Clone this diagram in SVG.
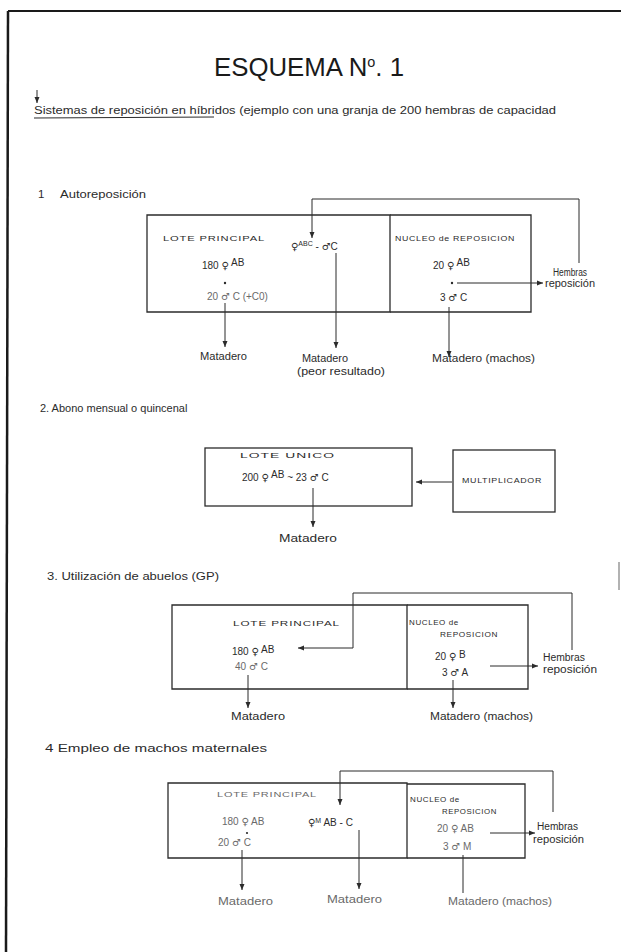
<svg xmlns="http://www.w3.org/2000/svg" width="621" height="952" viewBox="0 0 621 952">
<defs>
<style>
.t{font-family:"Liberation Sans","DejaVu Sans",sans-serif;fill:#2b2b2b}
.title{font-size:25px;fill:#1a1a1a}
.hand{font-size:10px}
.cap{font-size:8px;letter-spacing:0.6px}
.lab{font-size:11.5px}
.sup{font-size:7px}
.s{font-family:"DejaVu Sans",sans-serif;font-size:10px}
.ln{stroke:#2b2b2b;stroke-width:1;fill:none}
.box{stroke:#2b2b2b;stroke-width:1.3;fill:none}
.gray{fill:#6a6a6a}
.dot{fill:#2b2b2b}
</style>
<marker id="ah" viewBox="0 0 6 6" markerWidth="6" markerHeight="6" refX="6" refY="3" orient="auto" markerUnits="userSpaceOnUse">
<path d="M0,0.5 L6,3 L0,5.5 z" fill="#2b2b2b"/>
</marker>
</defs>
<rect width="621" height="952" fill="#ffffff"/>
<g id="page-frame">
<path d="M8,11 L621,11" stroke="#1a1a1a" stroke-width="2" fill="none"/>
<path d="M8,11 L6,952" stroke="#1a1a1a" stroke-width="2.5" fill="none"/>
<path d="M619,562 L619,590" stroke="#999" stroke-width="1.5" fill="none"/>
</g>
<g id="header">
<text class="t title" x="214" y="76" textLength="190" lengthAdjust="spacingAndGlyphs">ESQUEMA N<tspan font-size="14" dy="-9">o</tspan><tspan dy="9">. 1</tspan></text>
<path class="ln" d="M37,90 L37,103" marker-end="url(#ah)"/>
<text class="t hand" x="34" y="114" textLength="522" lengthAdjust="spacingAndGlyphs">Sistemas de reposición en híbridos (ejemplo con una granja de 200 hembras de capacidad</text>
<path class="ln" d="M34,118 L214,117"/>
</g>
<g id="connectors">
<path class="ln" d="M579,263 L579,199 L312,199 L312,238" marker-end="url(#ah)"/>
<path class="ln" d="M225,303 L225,347" marker-end="url(#ah)"/>
<path class="ln" d="M336,253 L336,348" marker-end="url(#ah)"/>
<path class="ln" d="M457,283 L543,283" marker-end="url(#ah)"/>
<path class="ln" d="M449,307 L449,357" marker-end="url(#ah)"/>
<path class="ln" d="M313,488 L313,527" marker-end="url(#ah)"/>
<path class="ln" d="M452,482 L416,482" marker-end="url(#ah)"/>
<path class="ln" d="M572,650 L572,593 L353,593 L353,648 L298,648" marker-end="url(#ah)"/>
<path class="ln" d="M248,675 L248,708" marker-end="url(#ah)"/>
<path class="ln" d="M490,666 L538,666" marker-end="url(#ah)"/>
<path class="ln" d="M453,680 L453,708" marker-end="url(#ah)"/>
<path class="ln" d="M553,812 L553,771 L340,771 L340,805" marker-end="url(#ah)"/>
<path class="ln" d="M242,850 L242,890" marker-end="url(#ah)"/>
<path class="ln" d="M359,830 L359,889" marker-end="url(#ah)"/>
<path class="ln" d="M490,833 L535,833" marker-end="url(#ah)"/>
<path class="ln" d="M463,855 L463,893"/>
</g>
<g id="s1-label"><text class="t lab" x="38" y="198">1</text><text class="t lab" x="60" y="198" textLength="86" lengthAdjust="spacingAndGlyphs">Autoreposición</text></g>
<g id="s1-lote-principal">
<path class="box" d="M147,215 L390,215 L390,312 L147,312 Z"/>
<text class="t cap" x="163" y="241" textLength="102" lengthAdjust="spacingAndGlyphs">LOTE   PRINCIPAL</text>
<text class="t hand" x="202" y="269">180 <tspan class="s">♀</tspan> <tspan dy="-3">AB</tspan></text>
<circle class="dot" cx="225" cy="283" r="1.2"/>
<text class="t hand gray" x="207" y="300">20 <tspan class="s">♂</tspan> C (+C0)</text>
<text class="t hand" x="291" y="250"><tspan class="s">♀</tspan><tspan class="sup" dy="-4">ABC</tspan><tspan dy="4"> - </tspan><tspan class="s">♂</tspan>C</text>
</g>
<g id="s1-nucleo">
<path class="box" d="M390,215 L531,215 L531,312 L390,312"/>
<text class="t cap" x="395" y="241" textLength="120" lengthAdjust="spacingAndGlyphs">NUCLEO de REPOSICION</text>
<text class="t hand" x="433" y="269">20 <tspan class="s">♀</tspan> <tspan dy="-3">AB</tspan></text>
<circle class="dot" cx="452" cy="283" r="1.2"/>
<text class="t hand" x="440" y="301">3 <tspan class="s">♂</tspan> C</text>
</g>
<g id="s1-outputs">
<text class="t hand" x="200" y="360" textLength="47" lengthAdjust="spacingAndGlyphs">Matadero</text>
<text class="t hand" x="302" y="362" textLength="46" lengthAdjust="spacingAndGlyphs">Matadero</text>
<text class="t hand" x="297" y="375" textLength="88" lengthAdjust="spacingAndGlyphs">(peor resultado)</text>
<text class="t hand" x="432" y="362" textLength="103" lengthAdjust="spacingAndGlyphs">Matadero (machos)</text>
<text class="t hand" x="553" y="276" font-size="8" textLength="34" lengthAdjust="spacingAndGlyphs">Hembras</text>
<text class="t hand" x="545" y="287" font-size="8" textLength="50" lengthAdjust="spacingAndGlyphs">reposición</text>
</g>
<g id="s2-label"><text class="t" x="40" y="412" font-size="11">2. Abono mensual o quincenal</text></g>
<g id="s2-lote-unico">
<rect class="box" x="205" y="448" width="207" height="58"/>
<text class="t cap" x="240" y="458" textLength="95" lengthAdjust="spacingAndGlyphs">LOTE    UNICO</text>
<text class="t hand" x="242" y="481">200 <tspan class="s">♀</tspan> <tspan dy="-3">AB</tspan><tspan dy="3"> ~ 23 </tspan><tspan class="s">♂</tspan> C</text>
<text class="t hand" x="279" y="542" textLength="58" lengthAdjust="spacingAndGlyphs">Matadero</text>
</g>
<g id="s2-multiplicador">
<rect class="box" x="453" y="450" width="102" height="62"/>
<text class="t cap" x="462" y="483" textLength="80" lengthAdjust="spacingAndGlyphs">MULTIPLICADOR</text>
</g>
<g id="s3-label"><text class="t lab" x="47" y="580" textLength="172" lengthAdjust="spacingAndGlyphs">3.  Utilización de abuelos (GP)</text></g>
<g id="s3-lote-principal">
<path class="box" d="M172,605 L407,605 L407,689 L172,689 Z"/>
<text class="t cap" x="233" y="626" textLength="107" lengthAdjust="spacingAndGlyphs">LOTE    PRINCIPAL</text>
<text class="t hand" x="232" y="655">180 <tspan class="s">♀</tspan> <tspan dy="-2">AB</tspan></text>
<text class="t hand gray" x="235" y="670">40 <tspan class="s">♂</tspan> C</text>
<text class="t hand" x="231" y="720" textLength="54" lengthAdjust="spacingAndGlyphs">Matadero</text>
</g>
<g id="s3-nucleo">
<path class="box" d="M407,605 L528,605 L528,689 L407,689"/>
<text class="t cap" x="409" y="625">NUCLEO   de</text>
<text class="t cap" x="440" y="637" textLength="58" lengthAdjust="spacingAndGlyphs">REPOSICION</text>
<text class="t hand" x="435" y="660">20 <tspan class="s">♀</tspan>  <tspan dy="-2">B</tspan></text>
<text class="t hand" x="442" y="676">3 <tspan class="s">♂</tspan>  A</text>
<text class="t hand" x="543" y="661" font-size="8" textLength="42" lengthAdjust="spacingAndGlyphs">Hembras</text>
<text class="t hand" x="543" y="673" font-size="8" textLength="54" lengthAdjust="spacingAndGlyphs">reposición</text>
<text class="t hand" x="430" y="720" textLength="103" lengthAdjust="spacingAndGlyphs">Matadero (machos)</text>
</g>
<g id="s4-label"><text class="t lab" x="45" y="752" textLength="222" lengthAdjust="spacingAndGlyphs">4  Empleo de machos maternales</text></g>
<g id="s4-lote-principal">
<path class="box" d="M168,783 L407,783 L407,858 L168,858 Z"/>
<text class="t cap gray" x="217" y="797" textLength="100" lengthAdjust="spacingAndGlyphs">LOTE    PRINCIPAL</text>
<text class="t hand gray" x="222" y="825">180 <tspan class="s">♀</tspan>  AB</text>
<circle class="dot" cx="247" cy="833" r="1.1"/>
<text class="t hand gray" x="218" y="846">20 <tspan class="s">♂</tspan> C</text>
<text class="t hand" x="308" y="826"><tspan class="s">♀</tspan><tspan class="sup" dy="-3">M</tspan><tspan dy="3"> AB - C</tspan></text>
<text class="t hand gray" x="218" y="905" textLength="55" lengthAdjust="spacingAndGlyphs">Matadero</text>
<text class="t hand gray" x="327" y="903" textLength="55" lengthAdjust="spacingAndGlyphs">Matadero</text>
</g>
<g id="s4-nucleo">
<path class="box" d="M407,784 L525,784 L525,858 L407,858"/>
<text class="t cap" x="410" y="802">NUCLEO  de</text>
<text class="t cap" x="442" y="814" textLength="55" lengthAdjust="spacingAndGlyphs">REPOSICION</text>
<text class="t hand gray" x="437" y="832">20 <tspan class="s">♀</tspan> AB</text>
<text class="t hand gray" x="443" y="850">3 <tspan class="s">♂</tspan> M</text>
<text class="t hand" x="537" y="830" font-size="9" textLength="41" lengthAdjust="spacingAndGlyphs">Hembras</text>
<text class="t hand" x="533" y="843" font-size="8" textLength="51" lengthAdjust="spacingAndGlyphs">reposición</text>
<text class="t hand gray" x="448" y="905" textLength="104" lengthAdjust="spacingAndGlyphs">Matadero (machos)</text>
</g>
</svg>
